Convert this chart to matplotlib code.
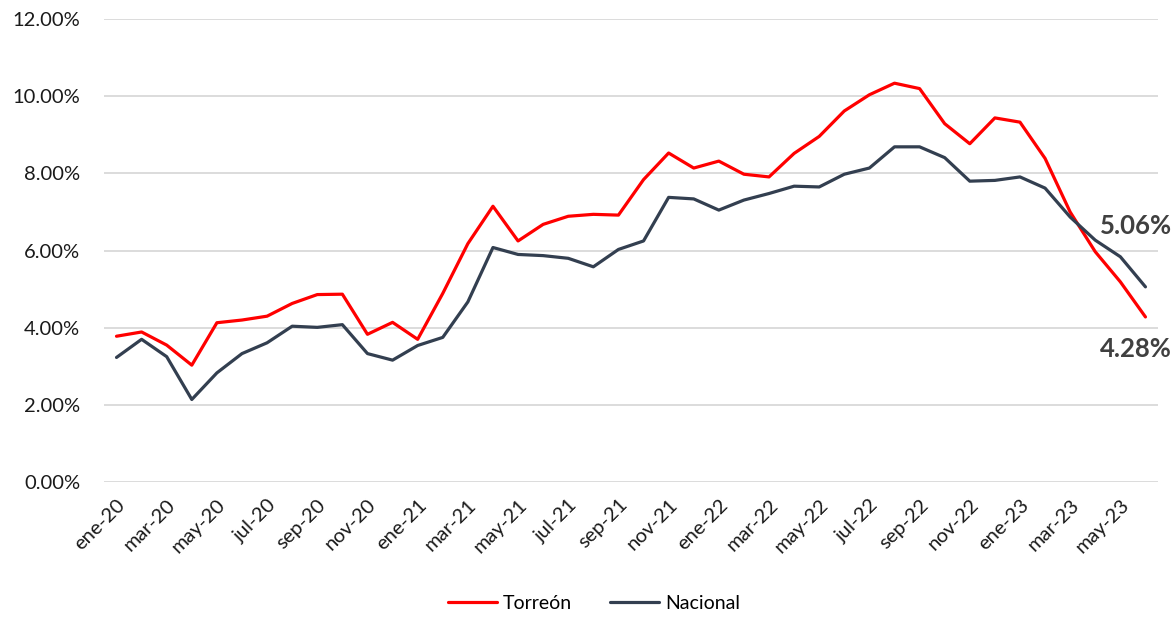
import numpy as np
import matplotlib.pyplot as plt
from matplotlib.ticker import FuncFormatter

plt.rcParams['font.family'] = ['Lato', 'DejaVu Sans']

# monthly labels ene-20 .. jun-23
meses = ['ene', 'feb', 'mar', 'abr', 'may', 'jun', 'jul', 'ago', 'sep', 'oct', 'nov', 'dic']
fechas = [f"{m}-{a}" for a in ['20', '21', '22', '23'] for m in meses][:42]

torreon = [3.78, 3.89, 3.55, 3.03, 4.13, 4.20, 4.30, 4.63, 4.86, 4.87,
           3.83, 4.14, 3.70, 4.89, 6.18, 7.15, 6.25, 6.68, 6.89, 6.94,
           6.92, 7.84, 8.53, 8.14, 8.32, 7.98, 7.91, 8.52, 8.96, 9.62,
           10.04, 10.34, 10.20, 9.29, 8.77, 9.44, 9.33, 8.39, 7.00, 5.97,
           5.19, 4.28]

nacional = [3.23, 3.70, 3.25, 2.14, 2.83, 3.33, 3.61, 4.04, 4.01, 4.08,
            3.33, 3.16, 3.54, 3.75, 4.67, 6.08, 5.90, 5.87, 5.80, 5.58,
            6.03, 6.25, 7.38, 7.34, 7.05, 7.31, 7.48, 7.67, 7.65, 7.98,
            8.14, 8.69, 8.69, 8.41, 7.80, 7.82, 7.91, 7.62, 6.87, 6.27,
            5.84, 5.06]

x = np.arange(len(fechas))

fig = plt.figure(figsize=(11.76, 6.18), dpi=100)
ax = fig.add_axes([0.0884, 0.22, 0.8963, 0.749])

ax.plot(x, torreon, color='#ff0000', lw=2.3, label='Torreón', solid_capstyle='round')
ax.plot(x, nacional, color='#333f50', lw=2.3, label='Nacional', solid_capstyle='round')

ax.set_xlim(-0.5, len(fechas) - 0.5)
ax.set_ylim(0, 12)
ax.set_yticks(np.arange(0, 12.1, 2))
ax.yaxis.set_major_formatter(FuncFormatter(lambda v, p: f"{v:.2f}%"))
ax.grid(axis='y', color='#d9d9d9', lw=1.3)
ax.set_axisbelow(True)

ax.set_xticks(x[::2])
ax.set_xticklabels(fechas[::2], rotation=45, ha='right', rotation_mode='anchor')
ax.tick_params(axis='both', length=0, labelsize=14.5, colors='#1a1a1a')
ax.tick_params(axis='y', pad=17)
ax.tick_params(axis='x', pad=10)

for s in ax.spines.values():
    s.set_visible(False)

# end labels
ax.annotate(f"{nacional[-1]:.2f}%", (x[-1], nacional[-1]), xytext=(-7, 44),
            textcoords='offset points', ha='center', va='center',
            fontsize=18.5, fontweight='bold', color='#404040')
ax.annotate(f"{torreon[-1]:.2f}%", (x[-1], torreon[-1]), xytext=(-7, -23),
            textcoords='offset points', ha='center', va='center',
            fontsize=18.5, fontweight='bold', color='#404040')

fig.legend(loc='lower center', bbox_to_anchor=(0.505, -0.018), ncol=2, frameon=False,
           fontsize=14, handlelength=2.5, columnspacing=2.0, handletextpad=0.3)

fig.savefig('out.png', dpi=100)
